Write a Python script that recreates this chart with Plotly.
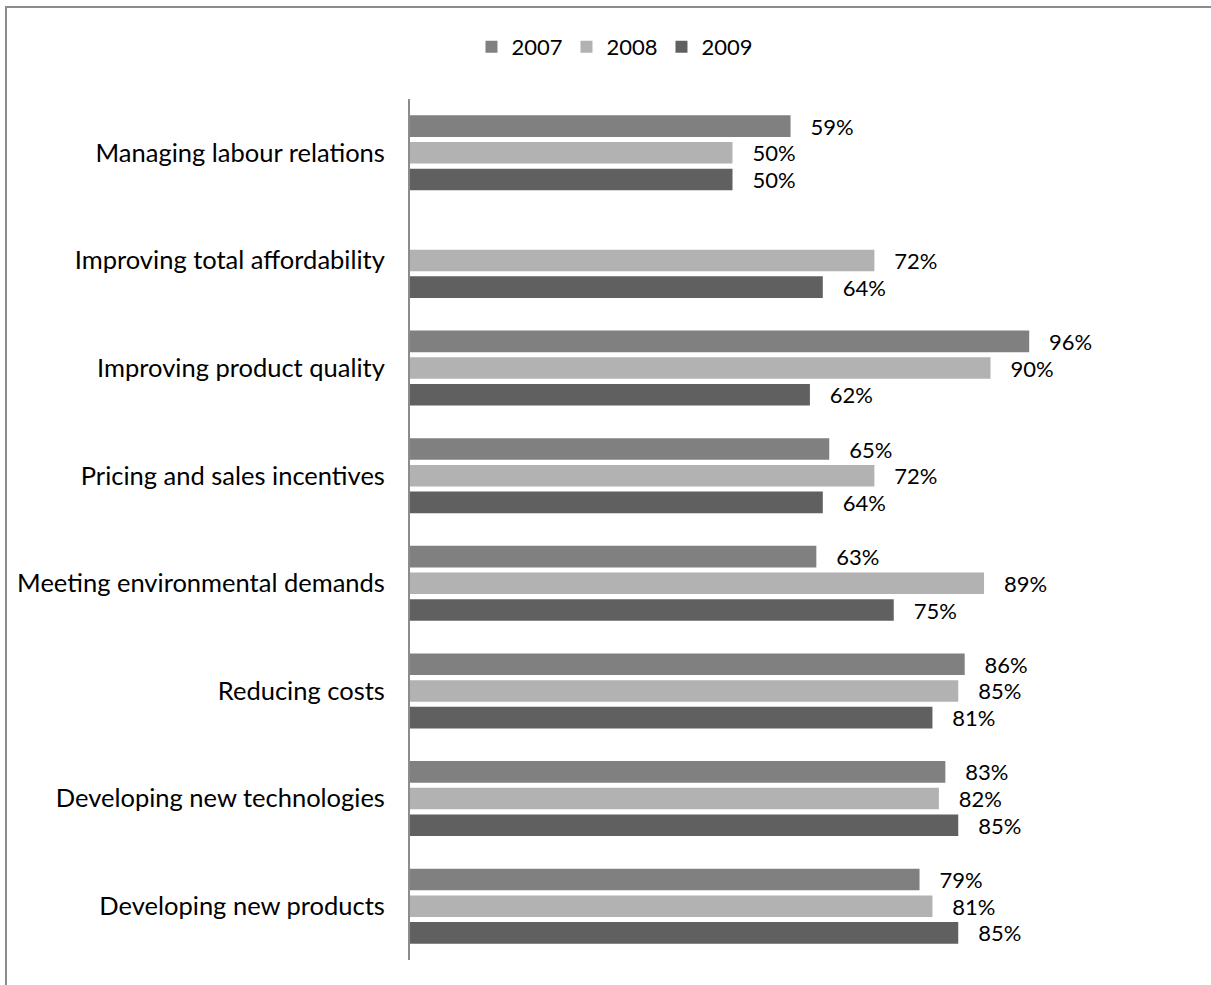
import plotly.graph_objects as go

categories = [
    "Managing labour relations",
    "Improving total affordability",
    "Improving product quality",
    "Pricing and sales incentives",
    "Meeting environmental demands",
    "Reducing costs",
    "Developing new technologies",
    "Developing new products",
]
years = ["2007", "2008", "2009"]
values_2007 = [0.59, None, 0.96, 0.65, 0.63, 0.86, 0.83, 0.79]
values_2008 = [0.50, 0.72, 0.90, 0.72, 0.89, 0.85, 0.82, 0.81]
values_2009 = [0.50, 0.64, 0.62, 0.64, 0.75, 0.81, 0.85, 0.85]
series = [values_2007, values_2008, values_2009]
colors = ["#808080", "#b2b2b2", "#606060"]

FONT = "Lato"
FS_CAT = 25.5
FS_VAL = 22
W, H = 1211, 985
ML, MR, MT, MB = 410, 27, 99, 25
PW = W - ML - MR
PH = H - MT - MB

fig = go.Figure()
for name, vals, col in zip(years, series, colors):
    fig.add_trace(go.Bar(
        name=name,
        y=categories,
        x=vals,
        orientation="h",
        marker=dict(color=col, line=dict(width=0)),
        texttemplate="\u00a0\u00a0\u00a0%{x:.0%}",
        textposition="outside",
        textfont=dict(family=FONT, size=FS_VAL, color="#000000"),
        cliponaxis=False,
        constraintext="none",
        hoverinfo="skip",
    ))

def px_to_paper_x(px):
    return (px - ML) / PW

def px_to_paper_y(py):
    return 1 - (py - MT) / PH

# outer frame (its right and bottom edges run past the visible page)
fig.add_shape(
    type="rect", xref="paper", yref="paper",
    x0=px_to_paper_x(6), x1=px_to_paper_x(1230),
    y0=px_to_paper_y(1000), y1=px_to_paper_y(7),
    line=dict(color="#8c8c8c", width=2),
    fillcolor="rgba(0,0,0,0)",
    layer="below",
)

fig.update_layout(
    width=W, height=H,
    margin=dict(l=ML, r=MR, t=MT, b=MB, pad=0),
    paper_bgcolor="white",
    plot_bgcolor="white",
    barmode="group",
    bargap=0.256,
    bargroupgap=0.19,
    font=dict(family=FONT, size=FS_VAL, color="#000000"),
    showlegend=True,
    legend=dict(
        orientation="h",
        xref="container", yref="container",
        x=0.507, xanchor="center",
        y=1 - 47 / H, yanchor="middle",
        font=dict(family=FONT, size=FS_VAL, color="#000000"),
        entrywidth=50,
        itemwidth=30,
        traceorder="normal",
    ),
    xaxis=dict(
        range=[0, 1.2],
        visible=False,
        showgrid=False,
        zeroline=False,
    ),
    yaxis=dict(
        autorange="reversed",
        showline=True,
        linecolor="#8c8c8c",
        linewidth=2,
        ticks="",
        showgrid=False,
        ticklabelstandoff=18,
        tickfont=dict(family=FONT, size=FS_CAT, color="#000000"),
    ),
)

fig.write_html("out.html")
